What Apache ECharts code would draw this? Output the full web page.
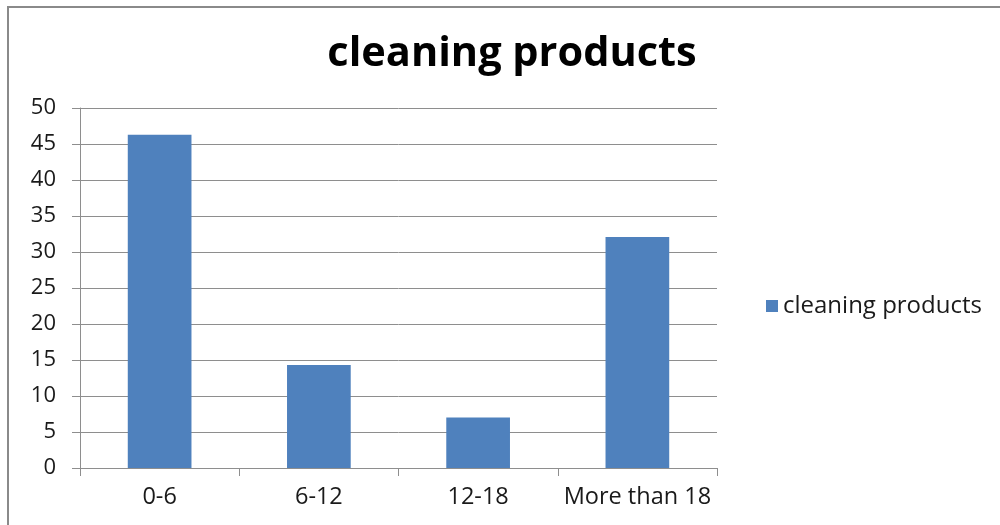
<!DOCTYPE html>
<html>
<head>
<meta charset="utf-8">
<script src="https://cdn.jsdelivr.net/npm/echarts@6/dist/echarts.min.js"></script>
<style>
  html, body { margin: 0; padding: 0; background: #ffffff; }
  #chart { width: 1000px; height: 525px; }
</style>
</head>
<body>
<div id="chart"></div>
<script>
// Age groups and share of cleaning products per group
const categories = ['0-6', '6-12', '12-18', 'More than 18'];
const cleaningProducts = [46.3, 14.3, 7.0, 32.1];
const seriesName = 'cleaning products';
const chartTitle = 'cleaning products';

const FONT = '"Open Sans", "Noto Sans", sans-serif';
const BAR_COLOR = '#4F81BD';
const LINE_GRAY = '#8e8e8e';

const chart = echarts.init(document.getElementById('chart'), null, { renderer: 'canvas' });

chart.setOption({
  animation: false,
  backgroundColor: '#ffffff',
  title: {
    text: chartTitle,
    left: 507,
    textAlign: 'center',
    top: 28,
    textStyle: { fontFamily: FONT, fontWeight: 'bold', fontSize: 41.5, color: '#000000' }
  },
  legend: {
    data: [seriesName],
    orient: 'vertical',
    left: 761,
    top: 289,
    icon: 'rect',
    itemWidth: 12,
    itemHeight: 12,
    itemGap: 8,
    textStyle: { fontFamily: FONT, fontSize: 24, color: '#1a1a1a' }
  },
  grid: { left: 80, right: 283, top: 108, bottom: 57, containLabel: false },
  xAxis: {
    type: 'category',
    data: categories,
    axisLine: { lineStyle: { color: LINE_GRAY, width: 1 } },
    axisTick: { show: true, alignWithLabel: false, length: 8, lineStyle: { color: LINE_GRAY } },
    axisLabel: { interval: 0, margin: 17, fontFamily: FONT, fontSize: 23.5, color: '#1a1a1a' },
    splitLine: { show: false }
  },
  yAxis: {
    type: 'value',
    min: 0,
    max: 50,
    interval: 5,
    axisLine: { show: true, lineStyle: { color: LINE_GRAY, width: 1 } },
    axisTick: { show: true, length: 8, lineStyle: { color: LINE_GRAY } },
    axisLabel: { margin: 24, fontFamily: FONT, fontSize: 22, color: '#1a1a1a' },
    splitLine: { show: true, lineStyle: { color: LINE_GRAY, width: 1 } }
  },
  series: [{
    name: seriesName,
    type: 'bar',
    data: cleaningProducts,
    barCategoryGap: '60%',
    itemStyle: { color: BAR_COLOR }
  }],
  graphic: [{
    type: 'rect',
    silent: true,
    shape: { x: 8, y: 7, width: 1200, height: 700 },
    style: { fill: 'none', stroke: '#8a8a8a', lineWidth: 2 }
  }]
});
</script>
</body>
</html>
